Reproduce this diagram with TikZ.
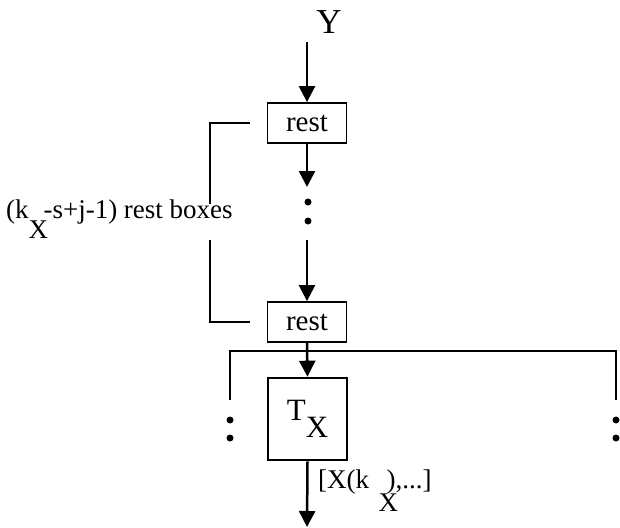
\documentclass[tikz,border=0pt]{standalone}
\usepackage{fontspec}
\setmainfont{Liberation Serif}
\usetikzlibrary{arrows.meta}
\tikzset{
  restbox/.style={draw, line width=1.8pt, minimum width=79pt, minimum height=40pt, inner sep=0pt, font=\fontsize{29}{31}\selectfont},
  tbox/.style={draw, line width=2.6pt, minimum width=79pt, minimum height=82pt, inner sep=0pt, font=\fontsize{31}{33}\selectfont},
  conn/.style={line width=2.5pt, -{Triangle[width=16pt,length=16pt]}},
  plain/.style={line width=2.4pt},
  dotmark/.style={circle, fill, inner sep=0pt, minimum size=7pt},
  lbl/.style={font=\fontsize{27}{30}\selectfont, inner sep=0pt}
}
\begin{document}
\begin{tikzpicture}[x=1pt,y=-1pt]
\useasboundingbox (0,0) rectangle (620,527);
% labels
\node[font=\fontsize{35}{37}\selectfont, inner sep=0pt] (ylab) at (329,22) {Y};
\coordinate (ystart) at (307,42);
\node[restbox] (rest1) at (307,123) {rest};
\node[restbox] (rest2) at (307,322) {rest};
\node[tbox] (tx) at (307.5,419) {T\raisebox{-0.55em}{X}};
% chain
\draw[conn] (ystart) -- (rest1.north);
\coordinate (a1end) at (307,187);
\draw[conn] (rest1.south) -- (a1end);
\node[dotmark] (d1) at (308,202) {};
\node[dotmark] (d2) at (308,221) {};
\coordinate (a2start) at (307,240);
\draw[conn] (a2start) -- (rest2.north);
\draw[conn] (rest2.south) -- (tx.north);
\coordinate (outend) at (307,527);
\draw[conn] (tx.south) -- (outend);
% bus line
\coordinate (busL) at (230,351);
\coordinate (busR) at (616,351);
\coordinate (busLd) at (230,400);
\coordinate (busRd) at (616,400);
\draw[plain] (busLd) -- (busL) -- (busR) -- (busRd);
\node[dotmark] (ld1) at (230,420) {};
\node[dotmark] (ld2) at (230,438) {};
\node[dotmark] (rd1) at (616,420) {};
\node[dotmark] (rd2) at (616,438) {};
% bracket
\coordinate (bt1) at (250,123);
\coordinate (bt2) at (210,123);
\coordinate (bg1) at (210,204);
\coordinate (bg2) at (210,240);
\coordinate (bb1) at (210,322);
\coordinate (bb2) at (250,322);
\draw[plain] (bt1) -- (bt2) -- (bg1);
\draw[plain] (bg2) -- (bb1) -- (bb2);
\node[lbl, anchor=west] (count) at (6,219) {(k\rlap{\raisebox{-0.72em}{X}}\hspace{0.55em}-s+j-1) rest boxes};
% output label
\node[lbl, anchor=west] (outlbl) at (318,491) {[X(k\hspace{0.35em}\rlap{\raisebox{-0.85em}{X}}\hspace{0.3em}),...]};
\end{tikzpicture}
\end{document}
